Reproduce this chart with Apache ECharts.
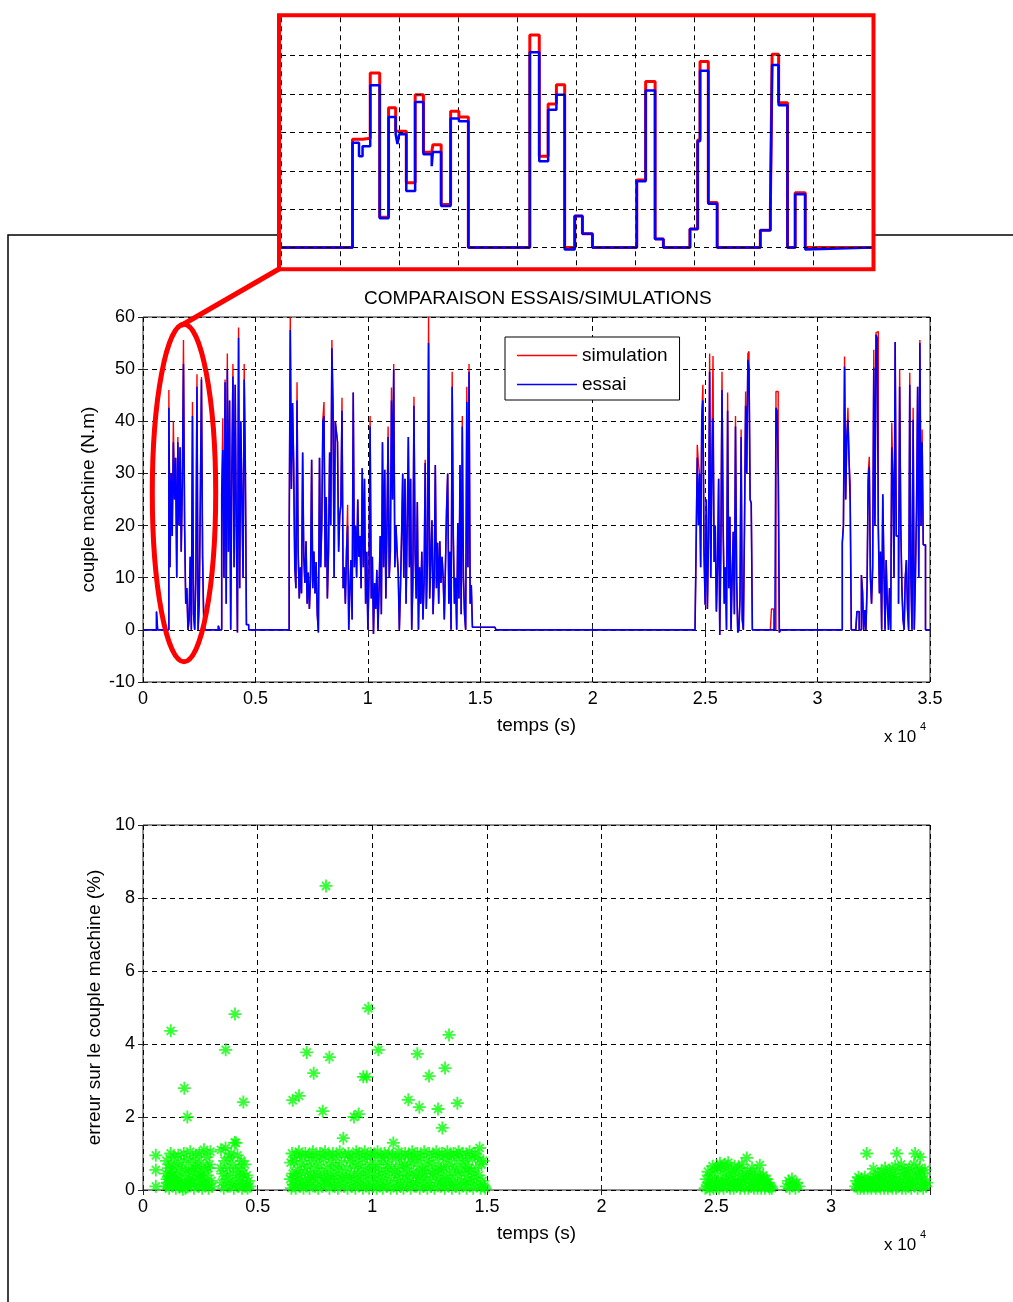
<!DOCTYPE html>
<html><head><meta charset="utf-8">
<script src="https://cdn.jsdelivr.net/npm/echarts@6/dist/echarts.min.js"></script>
<style>html,body{margin:0;padding:0;background:#fff}#c{width:1013px;height:1302px}</style>
</head><body><div id="c"></div>
<script>
// ---------- Inset (zoom) data: step signal, arbitrary time units 0..1000 ----------
const zoomTime  = [0,121,132,138,151,167,182,194,197,200,212,227,241,255,257,271,287,301,317,421,437,452,466,480,497,510,527,602,617,633,647,692,705,709,723,738,811,828,831,842,857,870,887,889,1000];
const zoomEssai = [0,27.3,23.8,26.4,42.3,7.6,34,29.5,27,29.5,14.7,37.9,24.3,21.2,24.9,10.8,33.6,32.9,0,50.9,22.5,35.9,39.8,-0.5,8.2,3.6,0,17.3,40.9,2.2,0,4.8,27.7,46.1,11.4,0,4.5,9.1,47.6,37.1,0,13.9,-0.5,0,0];
const zoomSim   = [0,28.2,28.2,28.5,45.5,7.9,36.4,30.3,30.3,30.3,16.9,39.8,24.8,24.8,26.8,11.2,35.5,34,0,55.4,23.8,37.4,42.4,0,8.2,3.6,0,17.6,43.3,2.2,0,4.8,28,48.5,11.7,0,4.5,9.1,50.4,37.7,0,14.3,0,0,0];
const zoomGridY = [0,10,20,30,40,50];

// ---------- Main chart: sampled torque (dt = 50 s) per active block ----------
const sampleStep = 50;
const startA = 0, startC = 6500, startD = 24550, startE = 31100, endTime = 35000;
const essaiA = [0,0,0,0,0,0,0,0,0,0, 0,0,3.5,0,0,0,0,0,0,0, 0,0,0,42.6,12,30,18,36,25,33, 10,36,20,35,15,28,51,20,5,8,
  0,2,14,0,41,3,0,10,46.6,0, 5,25,48,14,2,0,0,0,0,0, 0,0,0,0,0,0,0,0.8,0,0, 26,34.5,10,47.5,5,50,15,44,0,30,
  48.6,12,47,20,-0.5,56,8,40,25,10, 48,31.6,1,1,0];
const simA = {23:46,27:40,31:37,36:55.6,44:43.7,48:49,52:48.5,71:40.6,73:48,75:53,80:51,85:58,90:51};
const essaiC = [17,57.5,27,43.5,32,12,8,44,15,6, 12,7,34,14,9,17,5,11,4,10, 32.6,8,15,7,13,3,-0.5,33,12,20,
  40,41,12,25.5,6,15,34,20,54,43, 10,40,38,36,15,22,24,42,8,12, 5,15,20,0,8,13.4,2,45.5,12,20,
  10,25,14,18,8,31,12,29,5,15, 0,10,39,6,14,-0.8,9,4,11.5,0, 8,18,3,36,12,30.7,6,20,37,10,
  15,44,25,50,12,20,15,11,0,8, 18,30,10,29,5,20,37,12,29,0, 9,43,15,6,24.5,0,12,5,15,2,
  9,32,4,13,55,6,14,21,3,10, 31.6,8,16.7,5,17,9,14,10,2,12, 23,30,5,15,0,46.6,18,5,10,0,
  20.5,6,31.6,3,39,10,3,0,43.7,12, 49.5,5,8.6,0.5,0.5,0.5,0.5,0.5,0.5,0.5,
  0.5,0.5,0.5,0.5,0.5,0.5,0.5,0.5,0.5,0.5, 0.5,0.5,0.5,0.5,0];
const simC = {0:18,1:60,7:47.5,30:40.5,31:43.7,38:55.6,47:44.5,52:24,72:41,88:39,91:46.5,93:51,111:44.7,121:32.6,124:60,145:49.5,154:41,158:46.6,160:51};
const essaiD = [0,16.7,33,20,30,12,40.6,44,15,4.8, 25,4,18,49.5,10,30,40.6,13,20,3.5, 12,29,-1,15,46,20,5,12,0,42,
  8,21.7,0,10,18.8,3,39,10,-0.5,0, 6,37,2,0,20,43,30,51.8,50,25, 24.3,0,0,0,0,0,0,0,0,0,
  0,0,0,0,0,0,0,0,0,0, 0,0,42.6,42,30,-0.5,0];
const simD = {2:35.5,3:32,6:41.6,7:47,13:53,15:36,16:52.5,23:19.8,24:49.5,29:45.5,36:41,41:38.4,45:45.7,47:53,48:53.4,68:4,69:4,72:45.7,73:45.7,74:33.6};
const essaiE = [16.7,20,50.5,25,37,40.3,32.6,24.3,0,0, 0,0,0,3.5,3.5,0,0,10.5,7.3,0, 3.8,0,8,28.4,31.3,10,5,12,50.3,20,
  56.6,56,20,7,15,0,26,12,0,13.4, 5,0,8,0,35,29,10,55.2,18,18, 5,46.6,20,8,2,0,10,13.4,4,0,
  47,10,0,40.3,0,10,23,46.6,10,55, 20,36,16.3,16.3,0];
const simE = {2:52.4,5:42.6,7:28,23:30,24:33.2,28:53.7,30:57,31:57.2,41:2.5,44:39.7,51:50,60:49.3,63:42.6,69:55.6,71:38.4};

// ---------- Error scatter (%) ----------
const errCol  = [[560,0.1],[560,0.55],[560,0.95],[1208,1.0]];
const errBlk1 = [[980,0.1],[1000,0.45],[1020,0.8],[1050,0.3],[1060,0.2],[1100,0.6],[1140,0.05],[1180,0.35],[1230,0.7],[1250,0.4],[1270,0.15],[1310,0.5],[1350,0.9],[1390,0.25],[1430,0.05],[1450,0.25],[1460,0.65],[1500,0.4],[1540,0.95],[1580,0.1],[1620,0.3],[1650,0.15],[1660,0.75],[1700,0.55],[1740,0.02],[1780,1.0],[1820,0.2],[1850,0.05],[1860,0.45],[1900,0.85],[1940,0.1],[1980,0.6],[2020,0.3],[2050,0.25],[2060,1.05],[2100,0.15],[2140,0.5],[2180,0.8],[2220,0.05],[2250,0.6],[2260,0.35],[2300,0.95],[2340,0.2],[2380,0.65],[2420,0.1],[2450,0.45],[2460,1.0],[2500,0.4],[2540,0.75],[2580,0.05],[2620,0.3],[2650,0.2],[2660,1.1],[2700,0.55],[2740,0.15],[2780,0.9],[2820,0.4],[2850,0.6],[2860,0.05],[2900,0.7],[2940,1.05],[2980,0.25],[3010,0.1]];
const errBlk2 = [[3380,0.6],[3400,1.1],[3440,0.2],[3480,0.45],[3520,0.05],[3560,0.8],[3600,1.15],[3640,0.3],[3680,0.6],[3720,0.1],[3760,0.9],[3800,0.4],[3840,1.0],[3880,0.15],[3920,0.7],[3960,0.05],[4000,1.3],[4040,0.5],[4056,1.29],[4080,0.25],[4120,0.95],[4160,0.1],[4200,0.6],[4240,0.35],[4280,0.8],[4320,0.05],[4360,0.45],[4400,0.2],[4440,0.7],[4480,0.1],[4520,0.4],[4560,0.05],[4600,0.25],[4650,0.1]];
const errBlk3 = [[6420,0.3],[6440,0.75],[6470,0.05],[6500,1.0],[6530,0.45],[6560,0.15],[6600,0.8],[6630,0.35],[6660,0.05],[6700,0.95],[6730,0.55],[6760,0.2],[6800,1.05],[6830,0.4],[6860,0.1],[6900,0.7],[6930,0.25],[6960,0.9],[7000,0.05],
  [7040,0.5],[7080,1.0],[7110,0.15],[7150,0.65],[7190,0.3],[7220,0.95],[7260,0.05],[7300,0.45],[7340,0.8],[7370,0.2],[7410,1.05],[7450,0.35],[7480,0.6],[7520,0.1],[7560,0.9],[7600,0.4],
  [7640,0.05],[7680,0.7],[7720,1.0],[7750,0.25],[7790,0.5],[7830,0.1],[7870,0.85],[7900,0.35],[7940,1.05],[7980,0.15],[8020,0.6],[8060,0.3],[8100,0.95],[8130,0.05],[8170,0.45],[8200,0.75],
  [8240,0.2],[8280,1.0],[8320,0.4],[8350,0.1],[8390,0.65],[8430,0.9],[8470,0.3],[8500,0.05],[8540,0.55],[8580,1.05],[8620,0.2],[8650,0.75],[8690,0.4],[8736,1.42],[8760,0.1],[8800,0.95],
  [8840,0.35],[8880,0.6],[8920,0.05],[8960,1.0],[9000,0.25],[9030,0.8],[9070,0.45],[9110,0.1],[9150,0.9],[9190,0.3],[9230,0.65],[9260,0.05],[9300,1.05],[9340,0.4],[9370,0.15],[9400,0.7],
  [9440,1.0],[9480,0.2],[9520,0.5],[9560,0.85],[9590,0.05],[9630,0.35],[9670,1.05],[9700,0.6],[9740,0.15],[9780,0.9],[9820,0.4],[9860,0.05],[9900,0.7],[9930,1.0],[9970,0.25],[10000,0.55],
  [10040,0.1],[10080,0.95],[10120,0.4],[10150,0.7],[10190,0.05],[10230,1.05],[10270,0.3],[10300,0.6],[10340,0.15],[10380,0.9],[10420,0.45],[10460,0.05],[10500,0.8],[10530,1.0],[10570,0.25],[10600,0.5],
  [10640,0.1],[10680,0.7],[10720,1.0],[10760,0.35],[10800,0.05],[10840,0.6],[10880,0.95],[10916,1.29],[10950,0.2],[10990,0.5],[11030,0.85],[11070,0.05],[11100,0.4],[11140,1.05],[11180,0.25],[11200,0.65],
  [11240,0.1],[11280,0.9],[11320,0.45],[11360,0.05],[11400,0.7],[11430,1.0],[11470,0.3],[11510,0.6],[11550,0.15],[11590,0.95],[11630,0.4],[11670,0.05],[11700,0.75],[11740,1.05],[11780,0.2],[11800,0.5],
  [11840,0.85],[11880,0.1],[11920,0.4],[11960,1.0],[12000,0.25],[12030,0.65],[12070,0.05],[12110,0.9],[12150,0.35],[12190,0.55],[12230,0.1],[12260,1.05],[12300,0.45],[12340,0.2],[12370,0.8],[12400,0.05],
  [12440,0.6],[12480,1.0],[12520,0.3],[12560,0.1],[12600,0.75],[12640,0.45],[12670,0.95],[12710,0.05],[12750,0.5],[12790,1.05],[12830,0.2],[12870,0.65],[12900,0.35],[12940,0.9],[12980,0.1],[13000,0.55],
  [13040,1.0],[13080,0.25],[13120,0.6],[13160,0.05],[13200,0.85],[13230,0.4],[13270,1.05],[13310,0.15],[13350,0.7],[13390,0.3],[13430,0.95],[13470,0.05],[13500,0.5],[13540,1.0],[13580,0.2],[13600,0.65],
  [13640,0.1],[13680,0.9],[13720,0.4],[13760,1.05],[13800,0.05],[13840,0.55],[13880,0.25],[13910,0.8],[13950,1.0],[13990,0.15],[14030,0.45],[14070,0.7],[14110,0.05],[14150,0.95],[14190,0.3],[14200,0.6],
  [14240,1.05],[14280,0.2],[14320,0.5],[14360,0.85],[14400,0.05],[14440,0.35],[14480,1.0],[14520,0.6],[14560,0.15],[14600,0.9],[14640,0.4],[14680,1.15],[14720,0.05],[14760,0.7],[14800,0.25],[14840,0.8],[14880,0.1],[14920,0.05]];
const errBlk4 = [[24520,0.05],[24560,0.3],[24600,0.1],[24640,0.5],[24680,0.2],[24720,0.02],[24760,0.4],[24800,0.15],[24840,0.65],[24880,0.05],[24920,0.3],[24960,0.55],[25000,0.1],[25040,0.6],[25080,0.25],[25120,0.05],[25160,0.73],[25200,0.6],[25240,0.15],[25280,0.35],[25320,0.05],[25360,0.7],[25400,0.25],[25440,0.5],[25480,0.1],[25520,0.75],[25560,0.3],[25600,0.05],[25640,0.55],[25680,0.2],[25720,0.4],[25760,0.05],[25800,0.65],[25840,0.25],[25880,0.1],[25920,0.45],[25960,0.15],[26000,0.6],[26040,0.05],[26080,0.3],[26120,0.7],[26160,0.2],[26200,0.45],[26240,0.05],[26280,0.3],[26330,0.88],[26360,0.5],[26400,0.05],[26440,0.25],[26480,0.4],[26520,0.1],[26560,0.6],[26600,0.2],[26640,0.05],[26680,0.35],[26720,0.15],[26760,0.5],[26800,0.05],[26840,0.25],[26900,0.68],[26920,0.35],[26960,0.05],[27000,0.2],[27040,0.4],[27080,0.3],[27120,0.05],[27160,0.15],[27200,0.3],[27240,0.2],[27280,0.1],[27320,0.05],[27380,0.1],[27420,0.05]];
const errBlk5 = [[28050,0.1],[28150,0.25],[28200,0.05],[28300,0.3],[28350,0.15],[28450,0.05],[28500,0.2],[28600,0.1]];
const errBlk6 = [[31080,0.1],[31120,0.25],[31160,0.05],[31200,0.35],[31240,0.15],[31280,0.05],[31320,0.3],[31360,0.1],[31400,0.2],[31440,0.05],[31480,0.35],[31520,0.15],[31560,1.0],[31600,0.05],[31640,0.25],[31680,0.1],[31720,0.3],[31760,0.05],[31800,0.2],[31850,0.58],[31880,0.1],[31920,0.35],[31960,0.05],[32000,0.25],[32040,0.45],[32080,0.1],[32120,0.3],[32160,0.05],[32200,0.5],[32240,0.2],[32280,0.35],[32320,0.05],[32360,0.6],[32400,0.15],[32440,0.4],[32480,0.05],[32520,0.25],[32560,0.55],[32600,0.1],[32640,0.35],[32680,0.05],[32720,0.45],[32760,0.2],[32800,0.65],[32840,0.05],[32870,1.0],[32900,0.3],[32940,0.1],[32980,0.5],[33020,0.2],[33060,0.7],[33100,0.05],[33140,0.35],[33180,0.15],[33220,0.55],[33260,0.05],[33300,0.3],[33340,0.45],[33380,0.1],[33420,0.6],[33460,0.2],[33500,0.05],[33540,0.4],[33580,0.15],[33620,0.7],[33670,1.0],[33700,0.25],[33740,0.5],[33780,0.05],[33820,0.35],[33860,0.6],[33890,0.9],[33940,0.15],[33980,0.45],[34020,0.05],[34060,0.3],[34100,0.55],[34140,0.1],[34180,0.2]];
const errOutliers = [[1208,4.36],[1802,2.79],[1933,2.0],[3606,3.84],[4012,4.82],[4375,2.41],[7981,8.33],[6528,2.46],[6803,2.58],[7139,3.77],[7444,3.2],[7837,2.16],[8126,3.64],[9202,2.0],[9406,2.08],[9609,3.1],[9754,3.1],[9826,4.98],[10262,3.84],[11570,2.47],[11963,3.73],[12050,2.27],[12473,3.12],[12866,2.22],[13054,1.70],[13171,3.34],[13345,4.25],[13708,2.38]];

// ---------- Build series data ----------
function block(start, vals, over) {
  return vals.map((v, i) => [start + i * sampleStep, (over && (i in over)) ? over[i] : v]);
}
const mainEssai = [].concat(block(startA, essaiA), block(startC, essaiC), block(startD, essaiD), block(startE, essaiE), [[endTime, 0]]);
const mainSim = [].concat(block(startA, essaiA, simA), block(startC, essaiC, simC), block(startD, essaiD, simD), block(startE, essaiE, simE), [[endTime, 0]]);
const zoomEssaiData = zoomTime.map((t, i) => [t, zoomEssai[i]]);
const zoomSimData = zoomTime.map((t, i) => [t, zoomSim[i]]);
const errData = [].concat(errCol, errBlk1, errBlk2, errBlk3, errBlk4, errBlk5, errBlk6, errOutliers);

const FONT = "'Liberation Sans', Arial, Helvetica, sans-serif";
const gridLine = {show: true, lineStyle: {color: '#000', type: [5, 4], width: 1}};
const tickIn = {show: true, inside: true, length: 5, lineStyle: {color: '#222'}};
const labelStyle = {color: '#000', fontFamily: FONT, fontSize: 18};
const nameStyle = {color: '#000', fontFamily: FONT, fontSize: 19};
const xFmt = v => v === 0 ? '0' : String(+(v / 1e4).toFixed(2));
const star = 'path://M8.6,0h2.8v20h-2.8z M0,8.6h20v2.8h-20z M2.8,4.8L4.8,2.8L17.2,15.2L15.2,17.2z M15.2,2.8L17.2,4.8L4.8,17.2L2.8,15.2z';

const chart = echarts.init(document.getElementById('c'), null, {renderer: 'canvas'});
chart.setOption({
  animation: false,
  backgroundColor: '#fff',
  title: {text: 'COMPARAISON ESSAIS/SIMULATIONS', left: 359, top: 284, textStyle: {fontFamily: FONT, fontSize: 19, fontWeight: 'normal', color: '#000'}},
  legend: {
    data: ['simulation', 'essai'], orient: 'vertical', left: 505, top: 337,
    icon: 'rect', backgroundColor: '#fff', borderColor: '#000', borderWidth: 1, borderRadius: 0,
    padding: [8, 12, 5, 12], itemWidth: 60, itemHeight: 1.5, itemGap: 8,
    textStyle: {fontFamily: FONT, fontSize: 19, color: '#000', lineHeight: 21}
  },
  grid: [
    {left: 281, top: 17.3, width: 591, height: 249.4, show: true, backgroundColor: '#fff', borderWidth: 0},
    {left: 143, top: 317, width: 787, height: 365, show: true, borderColor: '#222', borderWidth: 1},
    {left: 143, top: 825, width: 787, height: 365, show: true, borderColor: '#222', borderWidth: 1}
  ],
  xAxis: [
    {gridIndex: 0, type: 'value', min: 0, max: 1000, interval: 100, axisLine: {show: false}, axisTick: {show: false}, axisLabel: {show: false}, splitLine: gridLine},
    {gridIndex: 1, type: 'value', min: 0, max: 35000, interval: 5000, axisLine: {show: false}, axisTick: tickIn,
      axisLabel: Object.assign({formatter: xFmt, margin: 8}, labelStyle), splitLine: gridLine,
      name: 'temps (s)', nameLocation: 'middle', nameGap: 34, nameTextStyle: nameStyle},
    {gridIndex: 1, type: 'value', position: 'top', min: 0, max: 35000, interval: 5000, axisLine: {show: false}, axisTick: tickIn, axisLabel: {show: false}, splitLine: {show: false}},
    {gridIndex: 2, type: 'value', min: 0, max: 34320, interval: 5000, axisLine: {show: false}, axisTick: tickIn,
      axisLabel: Object.assign({formatter: xFmt, margin: 8, showMaxLabel: false}, labelStyle), splitLine: gridLine,
      name: 'temps (s)', nameLocation: 'middle', nameGap: 34, nameTextStyle: nameStyle},
    {gridIndex: 2, type: 'value', position: 'top', min: 0, max: 34320, interval: 5000, axisLine: {show: false}, axisTick: tickIn, axisLabel: {show: false}, splitLine: {show: false}}
  ],
  yAxis: [
    {gridIndex: 0, type: 'value', min: -5, max: 60, axisLine: {show: false}, axisTick: {show: false}, axisLabel: {show: false}, splitLine: {show: false}},
    {gridIndex: 1, type: 'value', min: -10, max: 60, interval: 10, axisLine: {show: false}, axisTick: tickIn,
      axisLabel: Object.assign({margin: 8}, labelStyle), splitLine: gridLine,
      name: 'couple machine (N.m)', nameLocation: 'middle', nameRotate: 90, nameGap: 45, nameTextStyle: nameStyle},
    {gridIndex: 1, type: 'value', position: 'right', min: -10, max: 60, interval: 10, axisLine: {show: false}, axisTick: tickIn, axisLabel: {show: false}, splitLine: {show: false}},
    {gridIndex: 2, type: 'value', min: 0, max: 10, interval: 2, axisLine: {show: false}, axisTick: tickIn,
      axisLabel: Object.assign({margin: 8}, labelStyle), splitLine: gridLine,
      name: 'erreur sur le couple machine (%)', nameLocation: 'middle', nameRotate: 90, nameGap: 38, nameTextStyle: nameStyle},
    {gridIndex: 2, type: 'value', position: 'right', min: 0, max: 10, interval: 2, axisLine: {show: false}, axisTick: tickIn, axisLabel: {show: false}, splitLine: {show: false}}
  ],
  series: [
    {type: 'line', name: 'zoom simulation', xAxisIndex: 0, yAxisIndex: 0, data: zoomSimData, step: 'end', symbol: 'none',
      lineStyle: {color: '#ff0000', width: 3}, itemStyle: {color: '#ff0000'}, z: 2,
      markLine: {silent: true, symbol: ['none', 'none'], label: {show: false}, animation: false,
        lineStyle: {color: '#000', type: [5, 4], width: 1}, data: zoomGridY.map(v => ({yAxis: v}))}},
    {type: 'line', name: 'zoom essai', xAxisIndex: 0, yAxisIndex: 0, data: zoomEssaiData, step: 'end', symbol: 'none',
      lineStyle: {color: '#0000ff', width: 2.5}, itemStyle: {color: '#0000ff'}, z: 3},
    {type: 'line', name: 'simulation', xAxisIndex: 1, yAxisIndex: 1, data: mainSim, step: 'end', symbol: 'none',
      lineStyle: {color: '#ff0000', width: 1.4}, itemStyle: {color: '#ff0000'}, z: 2},
    {type: 'line', name: 'essai', xAxisIndex: 1, yAxisIndex: 1, data: mainEssai, step: 'end', symbol: 'none',
      lineStyle: {color: '#0000ff', width: 1.6}, itemStyle: {color: '#0000ff'}, z: 3},
    {type: 'scatter', name: 'erreur', xAxisIndex: 3, yAxisIndex: 3, data: errData, symbol: star, symbolSize: 13,
      itemStyle: {color: '#00ff00'}, z: 3}
  ],
  graphic: {elements: [
    {type: 'polyline', shape: {points: [[8, 1302], [8, 235], [278, 235]]}, style: {stroke: '#000', lineWidth: 1.5, fill: 'none'}, z: 1},
    {type: 'line', shape: {x1: 875, y1: 235, x2: 1013, y2: 235}, style: {stroke: '#000', lineWidth: 1.5}, z: 1},
    {type: 'rect', shape: {x: 279, y: 15.3, width: 594.5, height: 254}, style: {fill: 'none', stroke: '#ff0000', lineWidth: 4}, z: 100},
    {type: 'line', shape: {x1: 279, y1: 269, x2: 182, y2: 325}, style: {stroke: '#ff0000', lineWidth: 5, lineCap: 'round'}, z: 100},
    {type: 'ellipse', shape: {cx: 184, cy: 493, rx: 31.7, ry: 168.7}, style: {fill: 'none', stroke: '#ff0000', lineWidth: 5}, z: 100},
    {type: 'text', x: 884, y: 737, style: {text: 'x 10', font: "17px 'Liberation Sans', Arial, sans-serif", fill: '#000', textVerticalAlign: 'middle'}, z: 100},
    {type: 'text', x: 920, y: 727, style: {text: '4', font: "11px 'Liberation Sans', Arial, sans-serif", fill: '#000', textVerticalAlign: 'middle'}, z: 100},
    {type: 'text', x: 884, y: 1245, style: {text: 'x 10', font: "17px 'Liberation Sans', Arial, sans-serif", fill: '#000', textVerticalAlign: 'middle'}, z: 100},
    {type: 'text', x: 920, y: 1235, style: {text: '4', font: "11px 'Liberation Sans', Arial, sans-serif", fill: '#000', textVerticalAlign: 'middle'}, z: 100}
  ]}
});
</script></body></html>
